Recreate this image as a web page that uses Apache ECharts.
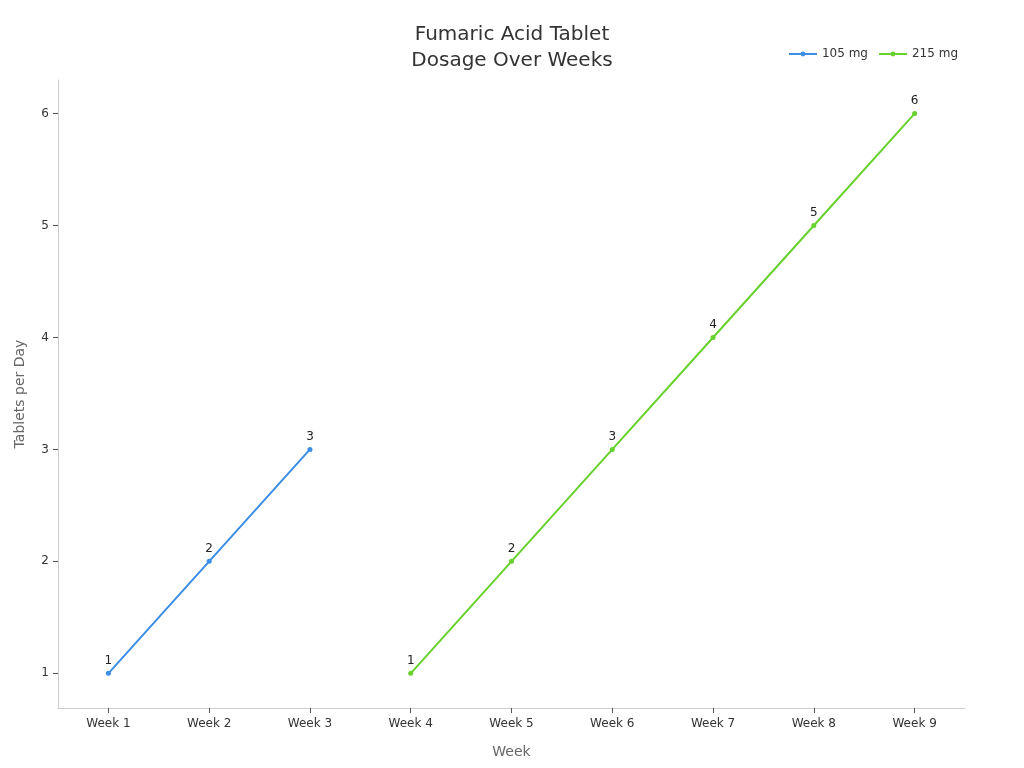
<!DOCTYPE html>
<html>
<head>
<meta charset="utf-8">
<script src="https://cdn.jsdelivr.net/npm/echarts@6/dist/echarts.min.js"></script>
<style>
  html, body { margin: 0; padding: 0; background: #fff; }
  #main { width: 1024px; height: 768px; }
</style>
</head>
<body>
<div id="main"></div>
<script>
var weeks = ['Week 1', 'Week 2', 'Week 3', 'Week 4', 'Week 5', 'Week 6', 'Week 7', 'Week 8', 'Week 9'];
var dose105 = [1, 2, 3, null, null, null, null, null, null];
var dose215 = [null, null, null, 1, 2, 3, 4, 5, 6];
var yTicks = [1, 2, 3, 4, 5, 6];

var chart = echarts.init(document.getElementById('main'));

var font = 'DejaVu Sans';

function lineSeries(name, data, color) {
    return {
        name: name,
        type: 'line',
        data: data,
        symbol: 'circle',
        symbolSize: 5,
        lineStyle: { width: 2, color: color },
        itemStyle: { color: color },
        label: {
            show: true,
            position: 'top',
            distance: 4,
            color: '#222',
            fontSize: 12,
            fontFamily: font
        }
    };
}

var option = {
    backgroundColor: '#fff',
    title: {
        text: 'Fumaric Acid Tablet\nDosage Over Weeks',
        left: 'center',
        top: 17,
        textStyle: { fontFamily: font, fontSize: 20, fontWeight: 'normal', color: '#333', lineHeight: 26 }
    },
    legend: {
        right: 61,
        top: 43,
        itemWidth: 28,
        itemHeight: 6,
        itemGap: 10,
        textStyle: { fontFamily: font, fontSize: 12, color: '#333' },
        data: ['105 mg', '215 mg']
    },
    grid: { left: 58, right: 59, top: 80, bottom: 60, containLabel: false },
    xAxis: {
        type: 'category',
        data: weeks,
        name: 'Week',
        nameLocation: 'middle',
        nameGap: 37,
        nameTextStyle: { fontFamily: font, fontSize: 14, color: '#666' },
        axisLine: { lineStyle: { color: '#ccc' } },
        axisTick: { show: true, alignWithLabel: true, length: 5, lineStyle: { color: '#555' } },
        axisLabel: { fontFamily: font, fontSize: 12, color: '#333', margin: 10 }
    },
    yAxis: {
        type: 'value',
        min: 0.69,
        max: 6.3,
        name: 'Tablets per Day',
        nameLocation: 'middle',
        nameGap: 31,
        nameTextStyle: { fontFamily: font, fontSize: 14, color: '#666' },
        axisLine: { show: true, lineStyle: { color: '#ccc' } },
        axisTick: { show: true, customValues: yTicks, length: 5, lineStyle: { color: '#555' } },
        axisLabel: { customValues: yTicks, fontFamily: font, fontSize: 12, color: '#333', margin: 9 },
        splitLine: { show: false }
    },
    series: [
        lineSeries('105 mg', dose105, '#3a8ee6'),
        lineSeries('215 mg', dose215, '#67d22d')
    ]
};

chart.setOption(option);
</script>
</body>
</html>
